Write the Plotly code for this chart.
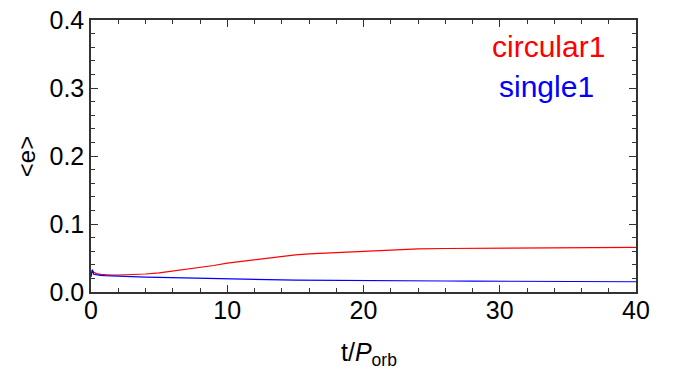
import plotly.graph_objects as go

t = [0, 0.1, 0.2, 0.4, 0.7, 1, 1.5, 2, 3, 4, 5, 6, 7, 8, 9, 10, 11, 12, 13, 14, 15,
     16, 17, 18, 19, 20, 22, 24, 26, 28, 30, 32, 34, 36, 38, 40]
circular1 = [0.026, 0.032, 0.029, 0.027, 0.026, 0.0255, 0.025, 0.025, 0.0255, 0.0265,
             0.028, 0.0305, 0.034, 0.0365, 0.039, 0.0425, 0.045, 0.0475, 0.0505, 0.053,
             0.0545, 0.056, 0.057, 0.058, 0.059, 0.0605, 0.0625, 0.0635, 0.064, 0.0642,
             0.0645, 0.0647, 0.065, 0.0652, 0.0653, 0.0655]
single1 = [0.022, 0.033, 0.026, 0.025, 0.0245, 0.024, 0.0235, 0.023, 0.0225, 0.022,
           0.0215, 0.021, 0.0203, 0.0197, 0.0192, 0.0188, 0.0185, 0.0182, 0.018, 0.0177,
           0.0175, 0.0173, 0.0171, 0.0169, 0.0168, 0.0167, 0.0165, 0.0164, 0.0162, 0.016,
           0.0158, 0.0156, 0.0155, 0.0153, 0.0152, 0.0151]

font = "Liberation Sans, Arial, sans-serif"

fig = go.Figure()
fig.add_trace(go.Scatter(x=t, y=circular1, mode="lines", line=dict(color="red", width=1.2),
                         showlegend=False))
fig.add_trace(go.Scatter(x=t, y=single1, mode="lines", line=dict(color="blue", width=1.2),
                         showlegend=False))

axis_common = dict(showline=True, linecolor="#333", linewidth=1.5, mirror="allticks",
                   ticks="inside", ticklen=7, tickwidth=1.2, tickcolor="#333",
                   showgrid=False, zeroline=False, automargin=False,
                   ticklabeloverflow="allow",
                   tickfont=dict(family=font, size=25, color="black"))

fig.update_xaxes(range=[0, 40], dtick=10, tick0=0, ticklabelstandoff=-5,
                 minor=dict(ticks="inside", dtick=2, ticklen=4, tickcolor="#333", tickwidth=1),
                 **axis_common)
fig.update_yaxes(range=[0, 0.4], dtick=0.1, tick0=0, tickformat=".1f",
                 minor=dict(ticks="inside", dtick=0.02, ticklen=4, tickcolor="#333", tickwidth=1),
                 **axis_common)

fig.add_annotation(x=-0.119, y=0.496, xref="paper", yref="paper", xanchor="center", yanchor="middle",
                   text="&lt;e&gt;", textangle=-90, showarrow=False,
                   font=dict(family=font, size=24, color="black"))
fig.add_annotation(x=0.511, y=-0.228, xref="paper", yref="paper", xanchor="center", yanchor="middle",
                   text="t/<i>P</i><sub>orb</sub>", showarrow=False,
                   font=dict(family=font, size=25, color="black"))

fig.add_annotation(x=0.946, y=0.903, xref="paper", yref="paper", xanchor="right", yanchor="middle",
                   text="circular1", showarrow=False, font=dict(family=font, size=30, color="red"))
fig.add_annotation(x=0.926, y=0.756, xref="paper", yref="paper", xanchor="right", yanchor="middle",
                   text="single1", showarrow=False, font=dict(family=font, size=30, color="blue"))

# page body has an 8px default margin, so the figure is shrunk by 8px and margins shifted
fig.update_layout(width=666, height=361, margin=dict(l=83, r=38, t=12, b=77),
                  plot_bgcolor="white", paper_bgcolor="white")

fig.write_html("out.html")
